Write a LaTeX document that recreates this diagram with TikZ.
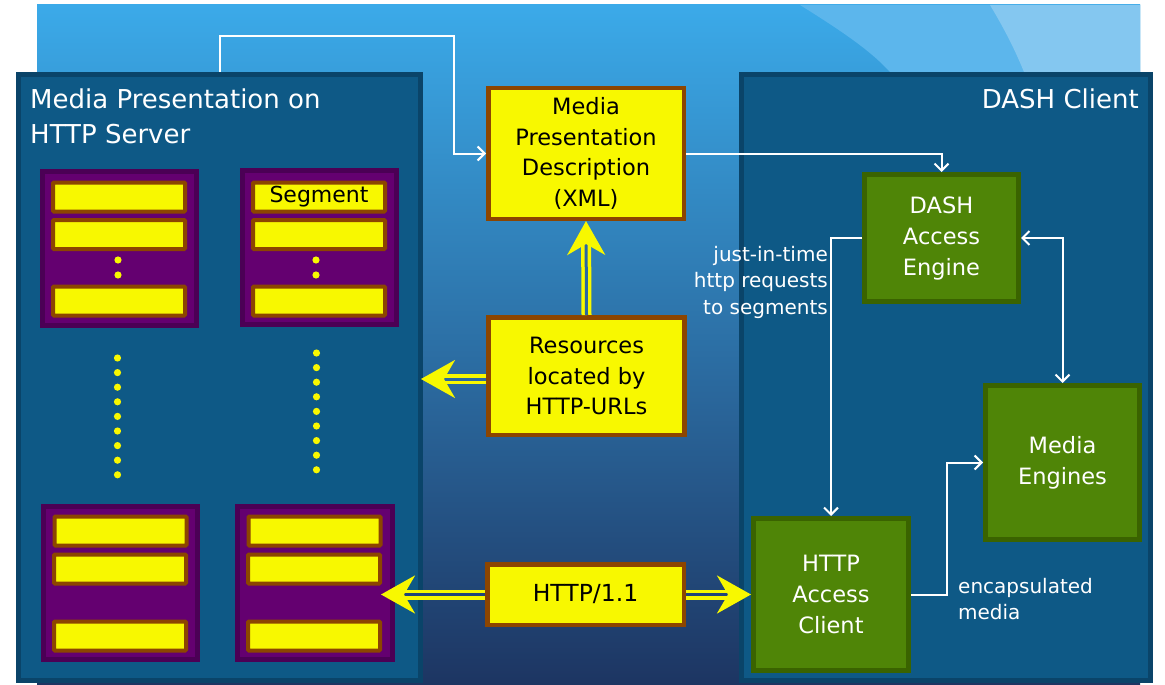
\documentclass[tikz,border=0pt]{standalone}
\usepackage{fontspec}
\setmainfont{DejaVu Sans}
\usetikzlibrary{arrows.meta}
\definecolor{bgtop}{HTML}{3BAAE9}
\definecolor{bgmid}{HTML}{2C6EAA}
\definecolor{bgbot}{HTML}{1D3562}
\definecolor{streaka}{HTML}{5CB6EC}
\definecolor{streakb}{HTML}{84C7F0}
\definecolor{panelfill}{HTML}{0E5986}
\definecolor{panelborder}{HTML}{0A4469}
\definecolor{yel}{HTML}{F8F800}
\definecolor{brownb}{HTML}{8C4500}
\definecolor{purplef}{HTML}{640070}
\definecolor{purpleb}{HTML}{4B0055}
\definecolor{greenf}{HTML}{4F8507}
\definecolor{greenb}{HTML}{3A6300}
\definecolor{gapa}{HTML}{2A68A2}
\definecolor{gapb}{HTML}{20447A}
\begin{document}
\begin{tikzpicture}[x=1pt,y=-1pt,
  panel/.style={draw=panelborder, fill=panelfill, line width=5pt, inner sep=0pt},
  ybox/.style={draw=brownb, fill=yel, line width=4.5pt, align=center, text=black, inner sep=0pt,
    font=\fontsize{22.5}{30.5}\selectfont},
  gbox/.style={draw=greenb, fill=greenf, line width=5pt, align=center, text=white, inner sep=0pt,
    font=\fontsize{22.5}{31}\selectfont},
  pbox/.style={draw=purpleb, fill=purplef, line width=5pt, inner sep=0pt, minimum width=154pt, minimum height=154pt},
  segbar/.style={draw=brownb, fill=yel, line width=4pt, minimum width=132pt, minimum height=29pt,
    inner sep=0pt, rounded corners=1pt, font=\fontsize{22}{26}\selectfont},
  wline/.style={draw=white, line width=2pt, -{Straight Barb[length=7pt,width=14pt]}},
  wboth/.style={draw=white, line width=2pt, {Straight Barb[length=7pt,width=14pt]}-{Straight Barb[length=7pt,width=14pt]}},
  yarrow/.style={draw=yel, line width=3.5pt, double=#1, double distance=3pt,
    -{Stealth[length=34pt,width=38pt,inset=11pt]}},
  yarrow/.default=gapa,
  title/.style={text=white, inner sep=0pt, font=\fontsize{26}{35}\selectfont},
  lbl/.style={text=white, inner sep=0pt, font=\fontsize{20}{26.5}\selectfont},
  ydot/.style={fill=yel}
]
\useasboundingbox (0,0) rectangle (1165,685);
\fill[white] (0,0) rectangle (1165,685);
% background
\shade[top color=bgtop, middle color=bgmid, bottom color=bgbot] (37,5) rectangle (1140,685);
\fill[streaka] (800,5) .. controls (840,30) and (870,50) .. (890,72) -- (1140,72) -- (1140,5) -- cycle;
\fill[streakb] (990,5) .. controls (1005,30) and (1015,50) .. (1024,72) -- (1140,72) -- (1140,5) -- cycle;

% panels
\node[panel, minimum width=402pt, minimum height=606pt] (lpanel) at (219.5,377.5) {};
\node[panel, minimum width=409pt, minimum height=606pt] (rpanel) at (946,377.5) {};
\node[title, anchor=north west, align=left] (ltitle) at (30,89) {Media Presentation on\\HTTP Server};
\node[title, anchor=north east] (rtitle) at (1139,89) {DASH Client};

% segment groups
\node[pbox] (p1) at (119.5,248.5) {};
\node[pbox] (p2) at (319.5,247.5) {};
\node[pbox, minimum height=153pt] (p3) at (120.5,583) {};
\node[pbox, minimum width=155pt, minimum height=153pt] (p4) at (315,583) {};

\node[segbar] (b11) at (119,197) {};
\node[segbar] (b12) at (119,234.5) {};
\node[segbar] (b13) at (119,301) {};
\node[segbar] (b21) at (319,197) {Segment};
\node[segbar] (b22) at (319,234.5) {};
\node[segbar] (b23) at (319,301) {};
\node[segbar] (b31) at (120.5,531) {};
\node[segbar] (b32) at (120,569) {};
\node[segbar] (b33) at (120,636) {};
\node[segbar] (b41) at (314.5,531) {};
\node[segbar] (b42) at (314,569) {};
\node[segbar] (b43) at (314,636) {};

% dots
\foreach \y in {260,275} {
  \fill[ydot] (118,\y) circle (3.6pt);
  \fill[ydot] (316,\y) circle (3.6pt);
}
\foreach \i in {0,...,8} {
  \fill[ydot] (117.5,358+14.6*\i) circle (3.6pt);
  \fill[ydot] (316.5,353+14.6*\i) circle (3.6pt);
}

% central yellow boxes
\node[ybox, minimum width=195.5pt, minimum height=130.5pt] (mpd) at (586,153.5) {Media\\Presentation\\Description\\(XML)};
\node[ybox, minimum width=196pt, minimum height=117.5pt] (res) at (586.5,376) {Resources\\located by\\HTTP-URLs};
\node[ybox, minimum width=196.5pt, minimum height=60.5pt, font=\fontsize{23.5}{30}\selectfont] (http) at (585.5,594.5) {HTTP/1.1};

% green boxes
\node[gbox, minimum width=154pt, minimum height=127pt] (engine) at (941.5,238) {DASH\\Access\\Engine};
\node[gbox, minimum width=155pt, minimum height=152pt] (client) at (831,594.5) {HTTP\\Access\\Client};
\node[gbox, minimum width=154pt, minimum height=154pt] (media) at (1062.5,462.5) {Media\\Engines};

% labels
\node[lbl, anchor=east, align=right] (jit) at (828,282) {just-in-time\\http requests\\to segments};
\node[lbl, anchor=west, align=left] (enc) at (958,599) {encapsulated\\media};

% white connectors
\coordinate (c1) at (454,36);
\draw[wline] (lpanel.north) |- (c1) |- (mpd.west);
\draw[wline] (mpd.east) -| (engine.north);
\draw[wline] (engine.west) -| (client.north);
\draw[wboth] (engine.east) -| (media.north);
\draw[wline] (client.east) -- ++(36,0) |- (media.west);

% yellow double arrows
\coordinate (lt) at (421,379);
\coordinate (st) at (381,594.5);
\draw[yarrow] (res.north) -- (mpd.south);
\draw[yarrow] (res.west |- lt) -- (lt);
\draw[yarrow=gapb] (http.west) -- (st);
\draw[yarrow=gapb] (http.east) -- (client.west);
\end{tikzpicture}
\end{document}
